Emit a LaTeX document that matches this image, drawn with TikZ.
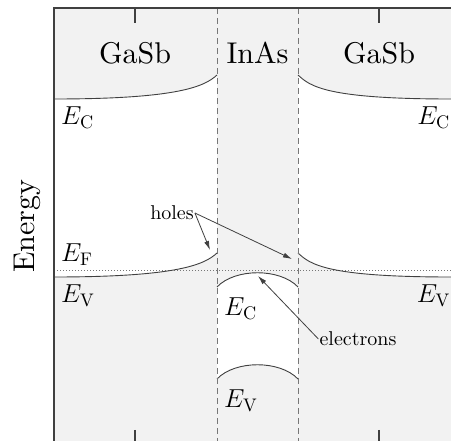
\documentclass[tikz,border=0pt]{standalone}
\usepackage{fix-cm}
\usepackage{fontspec}
\setmainfont{lmroman10-regular.otf}[ItalicFont=lmroman10-italic.otf, BoldFont=lmroman10-bold.otf]
\usetikzlibrary{arrows.meta}
\definecolor{bandgrey}{HTML}{F2F2F2}
\definecolor{linegrey}{HTML}{404040}
\definecolor{dashgrey}{HTML}{777777}
\tikzset{
  band/.style={draw=linegrey, line width=0.9pt},
  frame/.style={draw=linegrey, line width=1.1pt},
  iface/.style={draw=dashgrey, line width=1pt, dash pattern=on 6pt off 4pt},
  fermi/.style={draw=dashgrey, line width=0.9pt, dash pattern=on 1pt off 2pt},
  matlabel/.style={font=\fontsize{30}{33}\selectfont},
  elabel/.style={font=\fontsize{26}{29}\selectfont, inner sep=0pt},
  smalllabel/.style={font=\fontsize{20}{23}\selectfont, inner sep=1pt},
  pointer/.style={draw=linegrey, line width=0.8pt, -{Latex[length=9pt,width=5pt]}},
}
\begin{document}
\begin{tikzpicture}[x=1pt,y=-1pt]
\useasboundingbox (0,0) rectangle (451,441);
\clip (0,0) rectangle (451,441);
% grey background inside frame
\fill[bandgrey] (54,8) rectangle (460,450);
% white gap regions
\fill[white] (54,99) .. controls (180,99) and (205,86) .. (217,75) -- (217,253)
  .. controls (205,264) and (180,277) .. (54,277) -- cycle;
\fill[white] (460,99) -- (451,99) .. controls (325,99) and (310,86) .. (298,75) -- (298,253)
  .. controls (310,264) and (325,277) .. (451,277) -- (460,277) -- cycle;
\fill[white] (217,287) .. controls (235,268) and (280,268) .. (298,287) -- (298,379)
  .. controls (280,360) and (235,360) .. (217,379) -- cycle;
% Fermi level
\draw[fermi] (54,270) -- (460,270);
% band edges
\draw[band] (54,99) .. controls (180,99) and (205,86) .. (217,75);
\draw[band] (54,277) .. controls (180,277) and (205,264) .. (217,253);
\draw[band] (460,99) -- (451,99) .. controls (325,99) and (310,86) .. (298,75);
\draw[band] (460,277) -- (451,277) .. controls (325,277) and (310,264) .. (298,253);
\draw[band] (217,287) .. controls (235,268) and (280,268) .. (298,287);
\draw[band] (217,379) .. controls (235,360) and (280,360) .. (298,379);
% interfaces
\draw[iface] (217,8) -- (217,445);
\draw[iface] (298,8) -- (298,445);
% frame and ticks
\draw[frame] (54,445) -- (54,8) -- (460,8);
\draw[frame] (135,8) -- (135,23);
\draw[frame] (379,8) -- (379,23);
\draw[frame] (135,430) -- (135,445);
\draw[frame] (379,430) -- (379,445);
% material labels
\node[matlabel] (gasbL) at (135,53) {GaSb};
\node[matlabel] (inas) at (257.5,53) {InAs};
\node[matlabel] (gasbR) at (379,53) {GaSb};
% axis label
\node[font=\fontsize{30}{33}\selectfont, rotate=90] (energy) at (27,226) {Energy};
% energy labels
\node[elabel, anchor=west] (ecL) at (61,118) {$E_{\mathrm{C}}$};
\node[elabel, anchor=east] (ecR) at (450,118) {$E_{\mathrm{C}}$};
\node[elabel, anchor=west] (ef) at (61,255) {$E_{\mathrm{F}}$};
\node[elabel, anchor=west] (evL) at (61,296) {$E_{\mathrm{V}}$};
\node[elabel, anchor=east] (evR) at (450,296) {$E_{\mathrm{V}}$};
\node[elabel, anchor=west] (ecI) at (224,309) {$E_{\mathrm{C}}$};
\node[elabel, anchor=west] (evI) at (224,401) {$E_{\mathrm{V}}$};
% holes and electrons
\node[smalllabel] (holes) at (172,213) {holes};
\node[smalllabel] (electrons) at (358,339) {electrons};
\coordinate (hL) at (210,250);
\coordinate (hR) at (292,259);
\coordinate (eT) at (258,276);
\draw[pointer] (holes.east) -- (hL);
\draw[pointer] (holes.east) -- (hR);
\draw[pointer] (electrons.west) -- (eT);
\end{tikzpicture}
\end{document}
